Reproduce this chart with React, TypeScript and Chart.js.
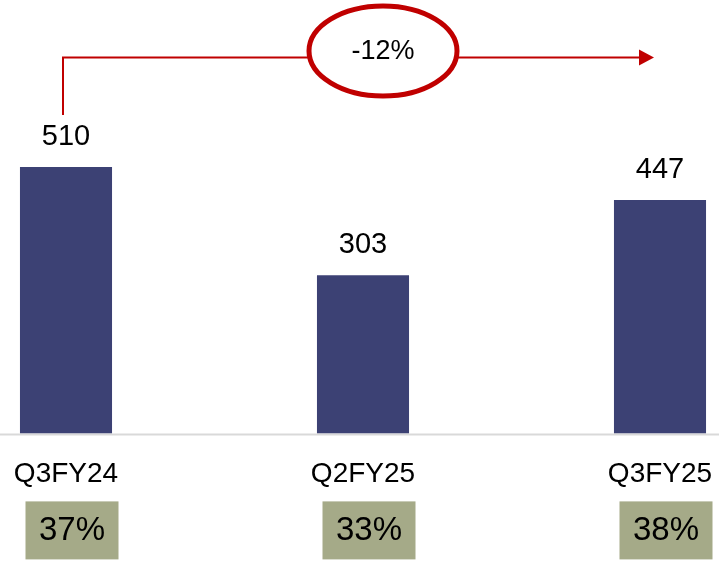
import React, { useEffect, useRef } from "react";
import { Chart, registerables } from "chart.js";

Chart.register(...registerables);

const categories = ["Q3FY24", "Q2FY25", "Q3FY25"];
const values = [510, 303, 447];
const margins = ["37%", "33%", "38%"];
const changeLabel = "-12%";

const FONT = "'Liberation Sans', Arial, sans-serif";
const RED = "#c00000";

const overlayPlugin = {
  id: "overlay",
  afterDatasetsDraw(chart: any) {
    const { ctx, chartArea } = chart;
    const xScale = chart.scales.x;
    const meta = chart.getDatasetMeta(0);
    ctx.save();

    // full-width axis line
    ctx.strokeStyle = "#d9d9d9";
    ctx.lineWidth = 2;
    ctx.beginPath();
    ctx.moveTo(0, chartArea.bottom + 1);
    ctx.lineTo(chart.width, chartArea.bottom + 1);
    ctx.stroke();

    // value labels
    ctx.fillStyle = "#000";
    ctx.font = `29px ${FONT}`;
    ctx.textAlign = "center";
    ctx.textBaseline = "middle";
    meta.data.forEach((bar: any, i: number) => {
      ctx.fillText(String(values[i]), bar.x, bar.y - 30);
    });

    // margin boxes
    margins.forEach((m, i) => {
      const cx = xScale.getPixelForValue(i) + 6;
      const top = chartArea.bottom + 68;
      ctx.fillStyle = "#a5aa88";
      ctx.fillRect(cx - 46.5, top, 93, 58);
      ctx.fillStyle = "#000";
      ctx.font = `33px ${FONT}`;
      ctx.fillText(m, cx, top + 30);
    });

    // arrow
    const x0 = xScale.getPixelForValue(0) - 3;
    const x1 = xScale.getPixelForValue(2) - 6;
    const yLine = 57.5;
    ctx.strokeStyle = RED;
    ctx.lineWidth = 2;
    ctx.beginPath();
    ctx.moveTo(x0, 115);
    ctx.lineTo(x0, yLine);
    ctx.lineTo(x1 - 14, yLine);
    ctx.stroke();
    ctx.fillStyle = RED;
    ctx.beginPath();
    ctx.moveTo(x1, yLine);
    ctx.lineTo(x1 - 15, yLine - 8);
    ctx.lineTo(x1 - 15, yLine + 8);
    ctx.closePath();
    ctx.fill();

    // ellipse
    const ex = xScale.getPixelForValue(1) + 20;
    const ey = 51;
    ctx.fillStyle = "#fff";
    ctx.beginPath();
    ctx.ellipse(ex, ey, 74, 45, 0, 0, Math.PI * 2);
    ctx.fill();
    ctx.strokeStyle = RED;
    ctx.lineWidth = 5;
    ctx.stroke();
    ctx.fillStyle = "#000";
    ctx.font = `27px ${FONT}`;
    ctx.fillText(changeLabel, ex, ey + 1);

    ctx.restore();
  },
};

export default function App() {
  const ref = useRef<HTMLCanvasElement>(null);
  useEffect(() => {
    document.body.style.margin = "0";
    const chart = new Chart(ref.current!, {
      type: "bar",
      data: {
        labels: categories,
        datasets: [
          {
            data: values,
            backgroundColor: "#3c4174",
            borderWidth: 0,
            barPercentage: 0.31,
            categoryPercentage: 1,
            clip: false as any,
          },
        ],
      },
      options: {
        responsive: false,
        animation: false,
        layout: { padding: { left: 66, right: 59, top: 0, bottom: 47 } },
        plugins: { legend: { display: false }, tooltip: { enabled: false } },
        scales: {
          x: {
            offset: false,
            grid: { display: false, drawTicks: false },
            border: { display: false },
            afterFit(scale: any) {
              scale.paddingLeft = 0;
              scale.paddingRight = 0;
            },
            ticks: {
              color: "#000",
              font: { family: FONT, size: 28 },
              padding: 24,
              maxRotation: 0,
              autoSkip: false,
            },
          },
          y: { display: false, min: 0, max: 830 },
        },
      },
      plugins: [overlayPlugin],
    });
    return () => chart.destroy();
  }, []);
  return <canvas ref={ref} width={719} height={562} style={{ display: "block" }} />;
}
